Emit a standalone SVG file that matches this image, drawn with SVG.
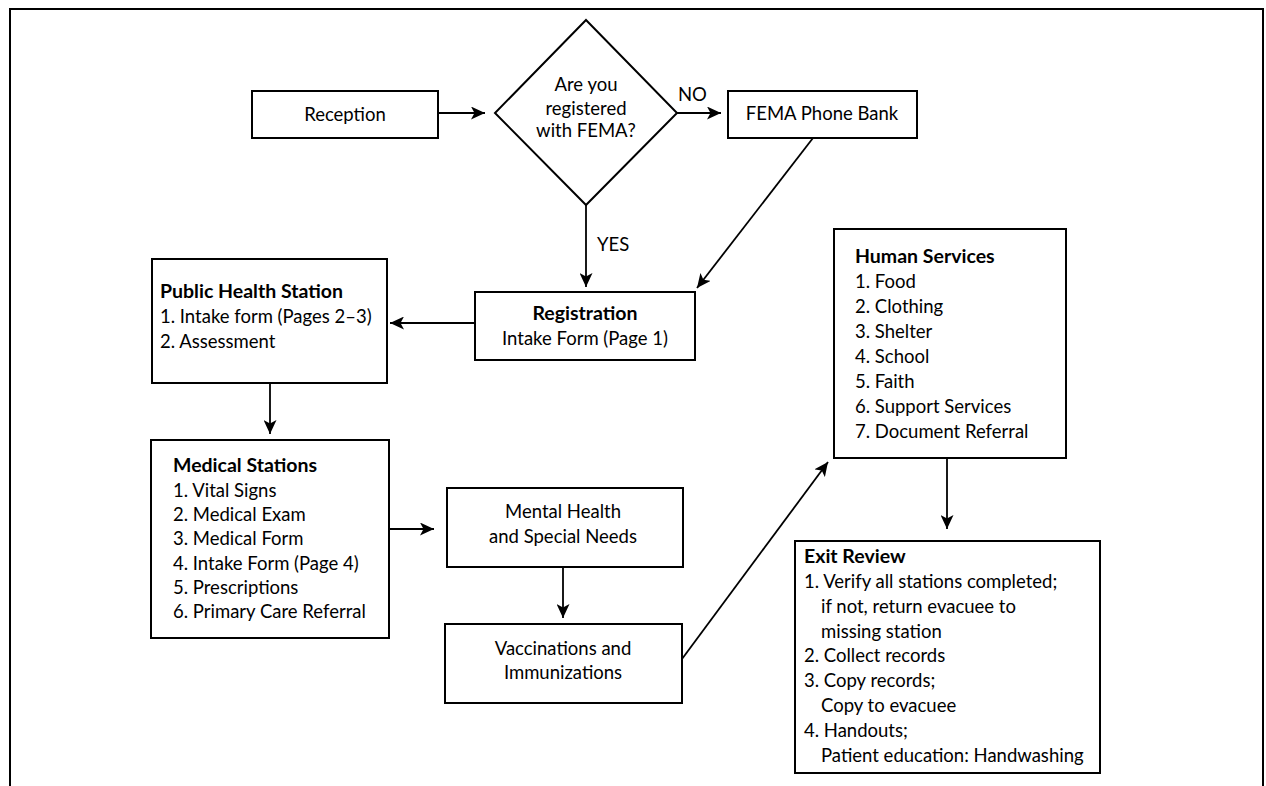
<svg xmlns="http://www.w3.org/2000/svg" width="1266" height="786" viewBox="0 0 1266 786">
<defs>
<marker id="ah" markerUnits="userSpaceOnUse" markerWidth="15" markerHeight="13" refX="14" refY="6.5" orient="auto">
<path d="M0,0 L14,6.5 L0,13 L3.5,6.5 z" fill="#000"/>
</marker>
<style>
.box{fill:#fff;stroke:#000;stroke-width:2}
.t{font-family:Lato,"Liberation Sans",sans-serif;font-size:18.5px;fill:#000}
.b{font-weight:bold;font-size:19.5px}
.c{text-anchor:middle}
.ln{fill:none;stroke:#000;stroke-width:1.8}
</style>
</defs>
<rect width="1266" height="786" fill="#fff"/>
<path d="M10,786 V9 H1263 V786" fill="none" stroke="#000" stroke-width="2"/>

<g id="connectors">
<line class="ln" x1="438" y1="113" x2="485" y2="113" marker-end="url(#ah)"/>
<line class="ln" x1="677" y1="113" x2="721" y2="113" marker-end="url(#ah)"/>
<line class="ln" x1="586" y1="205" x2="586" y2="287" marker-end="url(#ah)"/>
<line class="ln" x1="813" y1="138" x2="697" y2="288" marker-end="url(#ah)"/>
<line class="ln" x1="475" y1="323" x2="390" y2="323" marker-end="url(#ah)"/>
<line class="ln" x1="270" y1="383" x2="270" y2="434" marker-end="url(#ah)"/>
<line class="ln" x1="389" y1="529" x2="434" y2="529" marker-end="url(#ah)"/>
<line class="ln" x1="563" y1="567" x2="563" y2="618" marker-end="url(#ah)"/>
<line class="ln" x1="682" y1="659" x2="828" y2="462" marker-end="url(#ah)"/>
<line class="ln" x1="947" y1="458" x2="947" y2="529" marker-end="url(#ah)"/>
<text class="t" x="678" y="101">NO</text>
<text class="t" x="597" y="251">YES</text>
</g>

<g id="reception">
<rect class="box" x="252" y="91" width="186" height="47"/>
<text class="t c" x="345" y="121">Reception</text>
</g>

<g id="decision">
<path class="box" d="M586,20 L677,113 L586,205 L495,113 Z"/>
<text class="t c" x="586" y="91">Are you</text>
<text class="t c" x="586" y="115">registered</text>
<text class="t c" x="586" y="137">with FEMA?</text>
</g>

<g id="fema">
<rect class="box" x="728" y="91" width="189" height="47"/>
<text class="t c" x="822" y="120">FEMA Phone Bank</text>
</g>

<g id="registration">
<rect class="box" x="475" y="292" width="220" height="68"/>
<text class="t b c" x="585" y="320">Registration</text>
<text class="t c" x="585" y="345">Intake Form (Page 1)</text>
</g>

<g id="public-health">
<rect class="box" x="152" y="259" width="235" height="124"/>
<text class="t b" x="160" y="298">Public Health Station</text>
<text class="t" x="160" y="323">1. Intake form (Pages 2–3)</text>
<text class="t" x="160" y="348">2. Assessment</text>
</g>

<g id="medical">
<rect class="box" x="151" y="440" width="238" height="198"/>
<text class="t b" x="173" y="472">Medical Stations</text>
<text class="t" x="173" y="497">1. Vital Signs</text>
<text class="t" x="173" y="521">2. Medical Exam</text>
<text class="t" x="173" y="545">3. Medical Form</text>
<text class="t" x="173" y="570">4. Intake Form (Page 4)</text>
<text class="t" x="173" y="594">5. Prescriptions</text>
<text class="t" x="173" y="618">6. Primary Care Referral</text>
</g>

<g id="mental">
<rect class="box" x="447" y="488" width="236" height="79"/>
<text class="t c" x="563" y="518">Mental Health</text>
<text class="t c" x="563" y="543">and Special Needs</text>
</g>

<g id="vaccinations">
<rect class="box" x="445" y="624" width="237" height="79"/>
<text class="t c" x="563" y="655">Vaccinations and</text>
<text class="t c" x="563" y="679">Immunizations</text>
</g>

<g id="human-services">
<rect class="box" x="834" y="229" width="232" height="229"/>
<text class="t b" x="855" y="263">Human Services</text>
<text class="t" x="855" y="288">1. Food</text>
<text class="t" x="855" y="313">2. Clothing</text>
<text class="t" x="855" y="338">3. Shelter</text>
<text class="t" x="855" y="363">4. School</text>
<text class="t" x="855" y="388">5. Faith</text>
<text class="t" x="855" y="413">6. Support Services</text>
<text class="t" x="855" y="438">7. Document Referral</text>
</g>

<g id="exit-review">
<rect class="box" x="795" y="541" width="305" height="232"/>
<text class="t b" x="804" y="563">Exit Review</text>
<text class="t" x="804" y="588">1. Verify all stations completed;</text>
<text class="t" x="821" y="613">if not, return evacuee to</text>
<text class="t" x="821" y="638">missing station</text>
<text class="t" x="804" y="662">2. Collect records</text>
<text class="t" x="804" y="687">3. Copy records;</text>
<text class="t" x="821" y="712">Copy to evacuee</text>
<text class="t" x="804" y="737">4. Handouts;</text>
<text class="t" x="821" y="762">Patient education: Handwashing</text>
</g>
</svg>
